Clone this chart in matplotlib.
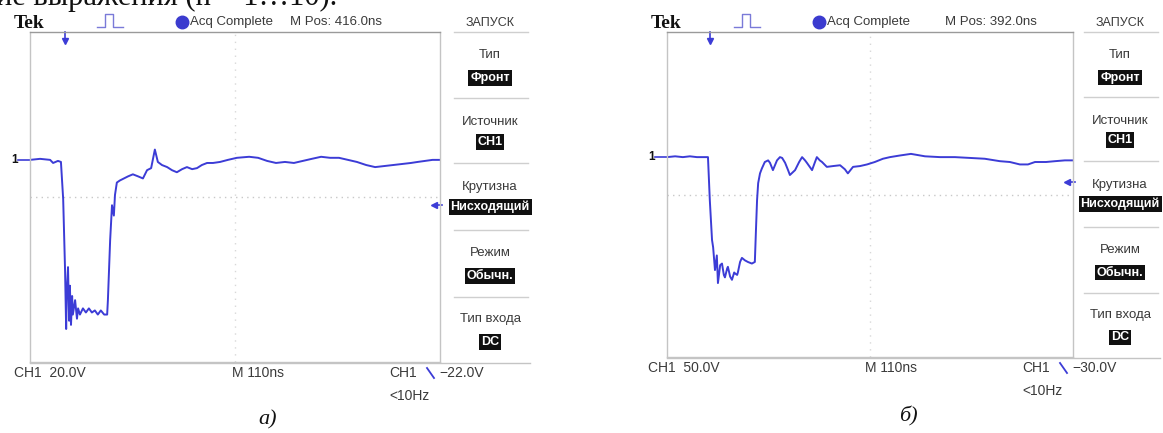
import matplotlib
matplotlib.use("Agg")
import matplotlib.pyplot as plt
from matplotlib.transforms import blended_transform_factory

W, H = 1163, 433

# Traces: time from the left edge of the screen (ns), volts
T_A = [0, 27, 54, 62, 75, 83, 89, 94, 97, 99, 102, 105, 107, 110, 113, 115, 121, 126,
       129, 134, 142, 150, 158, 166, 174, 182, 190, 199, 207, 209, 215, 220, 225, 228,
       233, 241, 252, 263, 276, 290, 303, 314, 325, 335, 343, 354, 368, 381, 394, 408,
       421, 435, 448, 461, 475, 491, 510, 531, 555, 588, 612, 636, 660, 684, 708, 732,
       756, 781, 805, 829, 853, 877, 902, 926, 950, 974, 998, 1022, 1040, 1060, 1080, 1100]
V_A = [0, 0.5, 0, -1.5, -0.5, -1, -19, -53, -82, -63, -52, -78, -61, -80, -66, -75, -68,
       -77, -72, -75, -72, -74, -72, -74, -73, -75, -73, -75, -75, -68, -39, -22, -27, -17,
       -11, -10, -9, -8, -7, -8, -9, -5, -4, 5, -1, -2.5, -3.5, -5, -6, -4.5,
       -3.5, -4.5, -4, -2.5, -1.5, -1.5, -1, 0, 1, 1.5, 1, -0.5, -1.5, -1, -1.5, -0.5,
       0.5, 1.5, 1, 1, 0, -1, -2.5, -3.5, -3, -2.5, -2, -1.5, -1, -0.5, 0, 0]

T_B = [0, 22, 43, 62, 81, 98, 111, 116, 122, 125, 130, 135, 138, 144, 149, 154, 157, 163,
       165, 171, 176, 182, 184, 190, 192, 198, 203, 211, 219, 230, 238, 241, 244, 247, 252,
       257, 265, 274, 279, 287, 298, 306, 312, 320, 328, 333, 347, 358, 366, 374, 379, 393,
       401, 406, 414, 420, 433, 450, 469, 482, 490, 504, 523, 542, 563, 585, 604, 631, 661,
       699, 740, 780, 821, 861, 902, 929, 956, 978, 997, 1027, 1051, 1078, 1100]
V_B = [0, 1, 0, 1, 0, 0, 0, -53, -102, -111, -139, -121, -155, -133, -131, -145, -148, -137,
       -135, -147, -151, -142, -143, -145, -142, -129, -124, -127, -129, -131, -129, -90, -53,
       -32, -20, -14, -6, -4, -7, -16, -4, 0, -1, -7, -16, -22, -16, -6, 0, -4, -7, -16,
       -6, 0, -4, -6, -12, -11, -10, -15, -20, -12, -11, -9, -6, -2, 0, 2, 4,
       1, 0, 0, -1, -2, -5, -6, -9, -9, -6, -6, -5, -4, -4]

TIMES = [T_A, T_B]
VOLTS = [V_A, V_B]
VDIV = [20.0, 50.0]          # V/div
TDIV = 110.0                 # ns/div
CENTER_V = [-18.0, -46.0]    # volts at screen centre
TRIG_LEVEL = [-22.0, -30.0]
TRIG_T = [94, 116]
MPOS = ["416.0ns", "392.0ns"]
CAPTIONS = ["а)", "б)"]
MENU_TITLES = ["Тип", "Источник", "Крутизна", "Режим", "Тип входа"]
MENU_VALUES = ["Фронт", "CH1", "Нисходящий", "Обычн.", "DC"]

# layout, in pixels of the reference picture
SCREEN = [(30, 32, 440, 362), (667, 32, 1073, 357)]
X0 = [0, 637]
MPOS_X = [290, 945]
MENU_CX = [490, 1120]
BOTTOM_X = [14, 648]
MID_X = [232, 865]
TRIG_X = [389, 1022]
CAP_X = [268, 908]
CAP_Y = [420, 416]

TRACE = "#3c3cd6"
FRAME = "#c4c4c4"
TXT = "#3a3a3a"
UI = "Liberation Sans"


def draw_screen(fig, bg, i):
    l, t, r, b = SCREEN[i]
    ax = fig.add_axes([l / W, 1 - b / H, (r - l) / W, (b - t) / H])
    ax.set_xlim(0, 10 * TDIV)
    ax.set_ylim(CENTER_V[i] - 4 * VDIV[i], CENTER_V[i] + 4 * VDIV[i])
    ax.set_xticks([])
    ax.set_yticks([])
    for s in ax.spines.values():
        s.set_color(FRAME)
        s.set_linewidth(1.0)
    ax.spines["top"].set_color("#9a9a9a")

    # graticule centre lines
    ax.axhline(CENTER_V[i], color="#c8c8c8", lw=1.0, ls=(0, (1, 3)))
    ax.axvline(5 * TDIV, color="#d8d8d8", lw=1.0, ls=(0, (1, 4)))

    ax.plot(TIMES[i], VOLTS[i], color=TRACE, lw=1.4)

    # ground marker "1"
    tr = blended_transform_factory(ax.transAxes, ax.transData)
    ax.text(-0.045, 0, "1", transform=tr, fontsize=8.5, fontweight="bold",
            color="#111111", va="center", ha="left", family=UI)
    ax.plot([-0.03, 0.0], [0, 0], transform=tr, color=TRACE, lw=1.2, clip_on=False)

    # trigger level arrow on the right edge
    ax.plot([0.985, 1.005], [TRIG_LEVEL[i]] * 2, transform=tr, color=TRACE, lw=1.2,
            clip_on=False)
    ax.plot([0.985], [TRIG_LEVEL[i]], transform=tr, marker="<", ms=5, color=TRACE,
            clip_on=False)

    # trigger position arrow at the top
    tr2 = blended_transform_factory(ax.transData, ax.transAxes)
    ax.plot([TRIG_T[i]] * 2, [1.0, 0.975], transform=tr2, color=TRACE, lw=1.2,
            clip_on=False)
    ax.plot([TRIG_T[i]], [0.972], transform=tr2, marker="v", ms=5, color=TRACE,
            clip_on=False)

    # header
    x0 = X0[i]
    bg.text(x0 + 14, 23, "Tek", fontsize=14, fontweight="bold", family="Liberation Serif",
            color="#111111", va="center")
    px = [0, 8, 8, 16, 16, 26]
    py = [27, 27, 14, 14, 27, 27]
    bg.plot([x0 + 97 + v for v in px], py, color="#7a7ad8", lw=1.0)
    bg.plot([x0 + 182], [22], marker="o", ms=9, color="#3b3bcf")
    bg.text(x0 + 190, 22, "Acq Complete", fontsize=9.5, color=TXT, va="center", family=UI)
    bg.text(MPOS_X[i], 22, "M Pos: " + MPOS[i], fontsize=9.5, color=TXT, va="center",
            family=UI)

    # side menu
    cx = MENU_CX[i]
    sy = lambda f: t + f * (b - t)
    bg.text(cx, 23, "ЗАПУСК", fontsize=9, color=TXT, ha="center", va="center", family=UI)
    for f in [0.0, 0.20, 0.397, 0.60, 0.803]:
        bg.plot([cx - 36, cx + 38], [sy(f)] * 2, color="#cfcfcf", lw=1.0)
    for k, (title, val) in enumerate(zip(MENU_TITLES, MENU_VALUES)):
        ft = [0.07, 0.273, 0.47, 0.67, 0.87][k]
        fv = [0.14, 0.333, 0.53, 0.74, 0.94][k]
        bg.text(cx, sy(ft), title, fontsize=9.5, color=TXT, ha="center", va="center",
                family=UI)
        bg.text(cx, sy(fv), val, fontsize=9, color="white", fontweight="bold",
                ha="center", va="center", family=UI,
                bbox=dict(boxstyle="square,pad=0.15", fc="#101010", ec="none"))

    # bottom readouts
    bg.plot([l, cx + 40], [b + 1] * 2, color=FRAME, lw=1.0)
    yb = b + 11
    bg.text(BOTTOM_X[i], yb, "CH1  %.1fV" % VDIV[i], fontsize=10, color=TXT,
            va="center", family=UI)
    bg.text(MID_X[i], yb, "M 110ns", fontsize=10, color=TXT, va="center", family=UI)
    bg.text(TRIG_X[i], yb, "CH1", fontsize=10, color=TXT, va="center", family=UI)
    bg.plot([TRIG_X[i] + 38, TRIG_X[i] + 45], [yb - 5, yb + 5], color=TRACE, lw=1.3)
    bg.text(TRIG_X[i] + 50, yb, "\u2212%.1fV" % abs(TRIG_LEVEL[i]), fontsize=10,
            color=TXT, va="center", family=UI)
    bg.text(TRIG_X[i], yb + 23, "<10Hz", fontsize=10, color=TXT, va="center", family=UI)

    bg.text(CAP_X[i], CAP_Y[i], CAPTIONS[i], fontsize=16, style="italic",
            family="Liberation Serif", color="#111111", ha="center", va="center")
    return ax


fig = plt.figure(figsize=(W / 100, H / 100), dpi=100)
fig.patch.set_facecolor("white")
bg = fig.add_axes([0, 0, 1, 1])
bg.set_xlim(0, W)
bg.set_ylim(H, 0)
bg.axis("off")

# cut-off line of the page text above the figure (only its lower edge shows)
bg.text(-4, 5, "ие выражения (n = 1…10).", fontsize=22, family="Liberation Serif",
        color="#111111", va="baseline")

for i in range(2):
    draw_screen(fig, bg, i)

fig.savefig("out.png", dpi=100)
